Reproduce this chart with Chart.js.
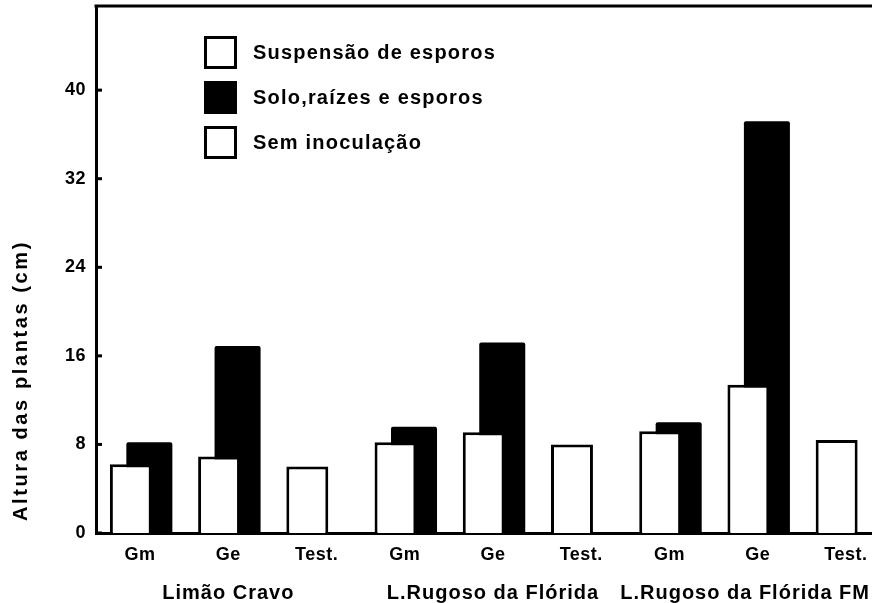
<!DOCTYPE html>
<html lang="pt">
<head>
<meta charset="utf-8">
<title>Altura das plantas</title>
<script src="https://cdn.jsdelivr.net/npm/chart.js@4/dist/chart.umd.min.js"></script>
<style>
  html, body { margin: 0; padding: 0; background: #fff; overflow: hidden; }
  #chart { display: block; }
</style>
</head>
<body>
<canvas id="chart" width="894" height="603"></canvas>
<script>
// ===== DADOS =====
const tratamentos = ['Gm', 'Ge', 'Test.', 'Gm', 'Ge', 'Test.', 'Gm', 'Ge', 'Test.'];
const portaEnxertos = ['Limão Cravo', 'L.Rugoso da Flórida', 'L.Rugoso da Flórida FM'];
const suspensao = [6.2, 6.9, null, 8.2, 9.1, null, 9.2, 13.4, null];
const soloRaizes = [8.2, 16.9, null, 9.6, 17.2, null, 10.0, 37.2, null];
const semInoculacao = [null, null, 6.0, null, null, 8.0, null, null, 8.4];
const yTicks = [0, 8, 16, 24, 32, 40];
const yMax = 47.6;

const FONT = "'Liberation Sans', Arial, sans-serif";

// ===== LEGENDA, TITULO E MOLDURA =====
const extras = {
  id: 'extras',
  beforeLayout(chart) { chart.ctx.letterSpacing = '0.5px'; },
  beforeDraw(chart) { chart.ctx.letterSpacing = '0.5px'; },
  afterDraw(chart) {
    const ctx = chart.ctx;
    const area = chart.chartArea;
    const x = chart.scales.x;
    const y = chart.scales.y;
    ctx.save();
    ctx.strokeStyle = '#000';
    ctx.fillStyle = '#000';
    ctx.lineWidth = 3;

    // linha de cima da moldura
    ctx.beginPath();
    ctx.moveTo(area.left - 1.5, area.top);
    ctx.lineTo(chart.width, area.top);
    ctx.stroke();

    // marcas do eixo y, para dentro
    y.ticks.forEach(t => {
      const py = y.getPixelForValue(t.value);
      ctx.beginPath();
      ctx.moveTo(area.left, py);
      ctx.lineTo(area.left + 6, py);
      ctx.stroke();
    });

    // nomes dos porta-enxertos (o ultimo nao pode passar da janela)
    ctx.font = 'bold 20px ' + FONT;
    ctx.letterSpacing = '1px';
    ctx.textAlign = 'center';
    ctx.textBaseline = 'alphabetic';
    portaEnxertos.forEach((nome, i) => {
      const w = ctx.measureText(nome).width;
      const cx = Math.min(x.getPixelForValue(i * 3 + 1), 870 - w / 2);
      ctx.fillText(nome, cx, 599);
    });

    // titulo do eixo y
    ctx.save();
    ctx.translate(21, 521);
    ctx.rotate(-Math.PI / 2);
    ctx.font = 'bold 20px ' + FONT;
    ctx.letterSpacing = '2.6px';
    ctx.textAlign = 'left';
    ctx.textBaseline = 'middle';
    ctx.fillText('Altura das plantas (cm)', 0, 0);
    ctx.restore();

    // legenda
    ctx.font = 'bold 20px ' + FONT;
    ctx.letterSpacing = '1.2px';
    ctx.textAlign = 'left';
    ctx.textBaseline = 'middle';
    chart.data.datasets.forEach((ds, i) => {
      const top = 36 + i * 45;
      if (ds.backgroundColor === '#000') {
        ctx.fillRect(204, top, 33, 33);
      } else {
        ctx.strokeRect(205.5, top + 1.5, 30, 30);
      }
      ctx.fillText(ds.label, 253, top + 17);
    });
    ctx.restore();
  }
};

const tickFont = { family: FONT, size: 18, weight: 'bold' };

new Chart(document.getElementById('chart'), {
  type: 'bar',
  data: {
    labels: tratamentos,
    datasets: [
      {
        label: 'Suspensão de esporos',
        data: suspensao,
        stack: 'claro',
        backgroundColor: '#fff',
        borderColor: '#000',
        borderWidth: 3,
        barPercentage: 2.27,
        categoryPercentage: 0.419
      },
      {
        label: 'Solo,raízes e esporos',
        data: soloRaizes,
        stack: 'escuro',
        backgroundColor: '#000',
        borderColor: '#000',
        borderWidth: 0,
        borderRadius: 2,
        barPercentage: 2.49,
        categoryPercentage: 0.419
      },
      {
        label: 'Sem inoculação',
        data: semInoculacao,
        stack: 'claro',
        backgroundColor: '#fff',
        borderColor: '#000',
        borderWidth: 3,
        barPercentage: 2.27,
        categoryPercentage: 0.419
      }
    ]
  },
  options: {
    responsive: false,
    animation: false,
    layout: { padding: { top: 6, right: 4, left: 0, bottom: 0 } },
    plugins: {
      legend: { display: false },
      tooltip: { enabled: false }
    },
    scales: {
      x: {
        grid: { display: false },
        border: { display: true, color: '#000', width: 3 },
        ticks: { color: '#000', font: tickFont, padding: 3, autoSkip: false, maxRotation: 0 },
        afterFit: s => { s.height = 70; s.paddingLeft = 0; s.paddingRight = 0; }
      },
      y: {
        min: 0,
        max: yMax,
        stacked: false,
        grid: { display: false },
        border: { display: true, color: '#000', width: 3 },
        ticks: { color: '#000', font: tickFont, padding: 2 },
        afterBuildTicks: s => { s.ticks = yTicks.map(v => ({ value: v })); },
        afterFit: s => { s.width = 96; s.paddingTop = 0; s.paddingBottom = 0; }
      }
    }
  },
  plugins: [extras]
});
</script>
</body>
</html>
